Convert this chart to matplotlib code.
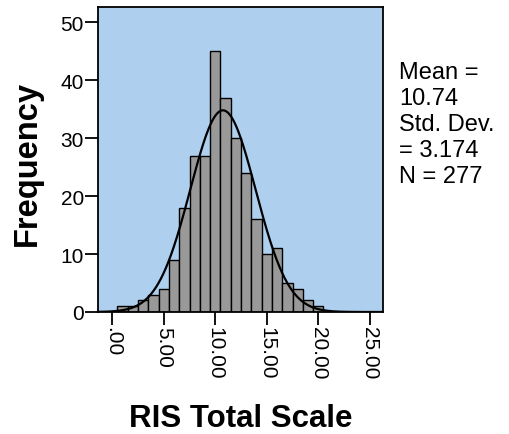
import numpy as np
import matplotlib
matplotlib.use("Agg")
import matplotlib.pyplot as plt

plt.rcParams['font.family'] = ['Liberation Sans', 'DejaVu Sans']

# Data
bin_centers = [1, 2, 3, 4, 5, 6, 7, 8, 9, 10, 11, 12, 13, 14, 15, 16, 17, 18, 19, 20]
counts = [1, 1, 2, 3, 4, 9, 18, 27, 27, 45, 37, 30, 24, 16, 10, 11, 5, 4, 2, 1]
mean_val = 10.74
std_val = 3.174
n_val = 277
bin_width = 1.0
x_ticks = [0, 5, 10, 15, 20, 25]
x_tick_labels = ['.00', '5.00', '10.00', '15.00', '20.00', '25.00']
y_ticks = [0, 10, 20, 30, 40, 50]
stats_lines = ['Mean =', '%.2f' % mean_val, 'Std. Dev.', '= %.3f' % std_val, 'N = %d' % n_val]

W, H = 509, 435
fig = plt.figure(figsize=(W / 100, H / 100), dpi=100)
ax = fig.add_axes([98.3 / W, 1 - 313 / H, (382.7 - 98.3) / W, (313 - 8.3) / H])
ax.set_facecolor('#aecfee')

ax.bar(bin_centers, counts, width=bin_width, color='#999999', edgecolor='black', linewidth=1.0, zorder=2)

xs = np.linspace(-1.36, 26.25, 600)
ys = n_val * bin_width / (std_val * np.sqrt(2 * np.pi)) * np.exp(-0.5 * ((xs - mean_val) / std_val) ** 2)
ax.plot(xs, ys, color='black', linewidth=1.6, zorder=3)

ax.set_xlim(-1.36, 26.25)
ax.set_ylim(0, 52.6)
ax.set_xticks(x_ticks)
ax.set_xticklabels(x_tick_labels, rotation=-90, fontsize=15)
ax.set_yticks(y_ticks)
ax.set_yticklabels([str(v) for v in y_ticks], fontsize=15)
ax.tick_params(axis='both', direction='out', length=9.4, width=1.3, pad=1.0, colors='black')
for s in ax.spines.values():
    s.set_linewidth(1.3)
    s.set_color('black')

fig.text(27 / W, 1 - 163 / H, 'Frequency', rotation=90, ha='center', va='center',
         fontsize=23.5, fontweight='bold')
fig.text(240.5 / W, (H - 426.7) / H, 'RIS Total Scale', ha='center', va='baseline',
         fontsize=22.5, fontweight='bold')
for i, line in enumerate(stats_lines):
    fig.text(399 / W, 1 - (79.3 + 26 * i) / H, line, ha='left', va='baseline', fontsize=17)

fig.savefig('out.png', dpi=100)
